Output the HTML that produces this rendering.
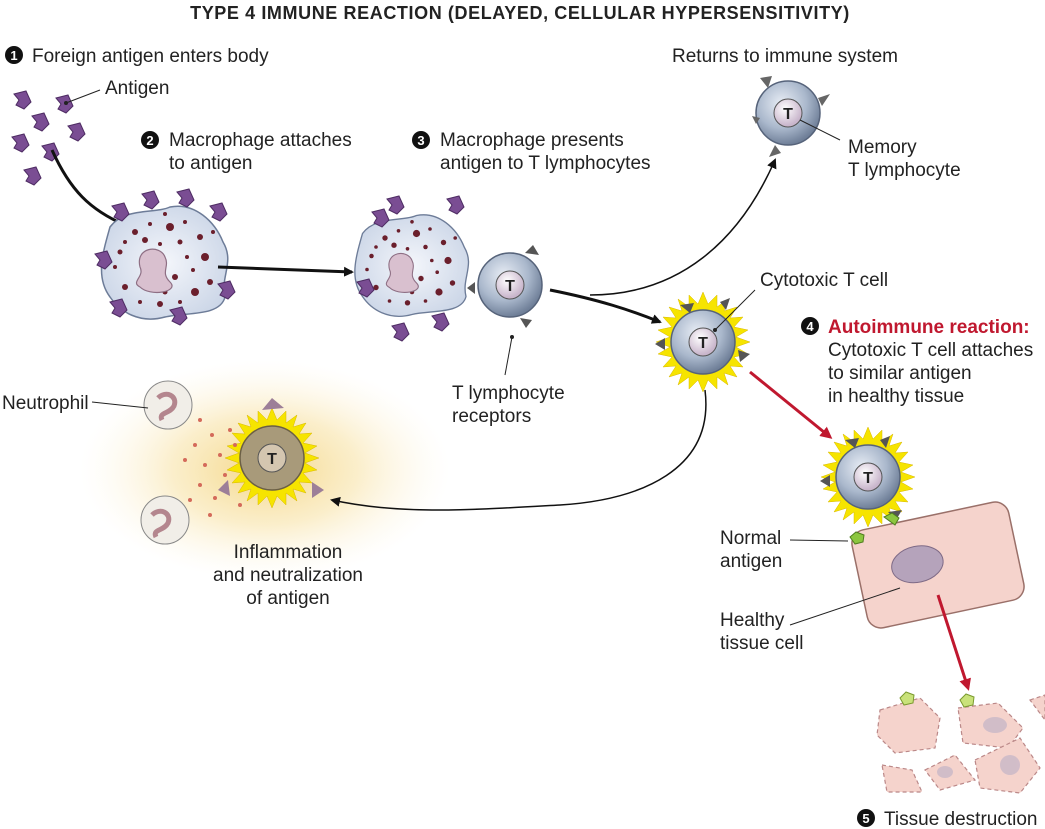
<!DOCTYPE html>
<html><head><meta charset="utf-8"><style>
html,body{margin:0;padding:0;background:#fff;}
svg{display:block;}
text{font-family:"Liberation Sans",sans-serif;font-size:19px;fill:#222;}
</style></head><body>
<svg width="1045" height="829" viewBox="0 0 1045 829" xmlns="http://www.w3.org/2000/svg">
<defs>
<radialGradient id="tc" cx="40%" cy="35%" r="65%"><stop offset="0" stop-color="#e8edf5"/><stop offset="0.6" stop-color="#aab8cc"/><stop offset="1" stop-color="#6f7f98"/></radialGradient>
<radialGradient id="nuc" cx="40%" cy="35%" r="60%"><stop offset="0" stop-color="#fff"/><stop offset="1" stop-color="#c9b6cc"/></radialGradient>
<radialGradient id="glow" cx="50%" cy="50%" r="50%"><stop offset="0" stop-color="#f3d27a" stop-opacity="0.9"/><stop offset="0.5" stop-color="#f8e3a8" stop-opacity="0.6"/><stop offset="1" stop-color="#fdf5e0" stop-opacity="0"/></radialGradient>
<radialGradient id="mac" cx="50%" cy="50%" r="60%"><stop offset="0" stop-color="#f4f6fb"/><stop offset="1" stop-color="#c9d4e6"/></radialGradient>
<marker id="ab" markerWidth="10" markerHeight="10" refX="8" refY="5" orient="auto" markerUnits="userSpaceOnUse"><path d="M0,0 L10,5 L0,10 z" fill="#111"/></marker>
<marker id="ar" markerWidth="12" markerHeight="12" refX="9" refY="6" orient="auto" markerUnits="userSpaceOnUse"><path d="M0,0 L12,6 L0,12 z" fill="#c0182f"/></marker>
<g id="ag"><path d="M-8,-6 L4,-9 L9,2 L2,9 L-6,5 L-3,0 z" fill="#7a4d93" stroke="#4e2c63" stroke-width="1"/></g>
<g id="tcell"><circle r="32" fill="url(#tc)" stroke="#56637a" stroke-width="1.5"/><circle r="14" fill="url(#nuc)" stroke="#555" stroke-width="1"/><text x="0" y="6" text-anchor="middle" style="font-weight:bold;font-size:16px">T</text></g>
<g id="halo"><polygon fill="#f6e400" stroke="#d8b800" stroke-width="0.5" points="0,-50 5,-38 14,-47 14,-35 25,-43 21,-31 34,-35 27,-24 40,-25 31,-15 45,-12 33,-5 47,0 33,5 45,12 31,15 40,25 27,24 34,35 21,31 25,43 14,35 14,47 5,38 0,50 -5,38 -14,47 -14,35 -25,43 -21,31 -34,35 -27,24 -40,25 -31,15 -45,12 -33,5 -47,0 -33,-5 -45,-12 -31,-15 -40,-25 -27,-24 -34,-35 -21,-31 -25,-43 -14,-35 -14,-47 -5,-38"/></g>
<g id="macro">
<path d="M-55,-35 C-40,-55 -10,-48 5,-55 C30,-60 50,-40 58,-20 C70,0 55,15 60,35 C55,55 20,50 0,55 C-25,62 -45,50 -55,35 C-70,15 -62,-10 -55,-35z" fill="url(#mac)" stroke="#6d7c98" stroke-width="1.5"/>
<g fill="#6b1f2c">
<circle cx="-30" cy="-30" r="3"/><circle cx="-15" cy="-38" r="2"/><circle cx="5" cy="-35" r="4"/><circle cx="20" cy="-40" r="2"/><circle cx="35" cy="-25" r="3"/><circle cx="15" cy="-20" r="2.5"/><circle cx="-5" cy="-18" r="2"/><circle cx="40" cy="-5" r="4"/><circle cx="28" cy="8" r="2"/><circle cx="45" cy="20" r="3"/><circle cx="30" cy="30" r="4"/><circle cx="15" cy="40" r="2"/><circle cx="-5" cy="42" r="3"/><circle cx="-25" cy="40" r="2"/><circle cx="-40" cy="25" r="3"/><circle cx="-45" cy="-10" r="2.5"/><circle cx="-40" cy="-20" r="2"/><circle cx="10" cy="15" r="3"/><circle cx="22" cy="-5" r="2"/><circle cx="-20" cy="-22" r="3"/><circle cx="0" cy="-48" r="2"/><circle cx="48" cy="-30" r="2"/><circle cx="-50" cy="5" r="2"/><circle cx="0" cy="30" r="2.5"/>
</g>
<path d="M-25,5 C-30,-15 -5,-18 0,-5 C5,5 -5,10 5,20 C15,30 -15,35 -25,25 C-35,20 -20,15 -25,5z" fill="#d9c0cf" stroke="#8e6f84" stroke-width="1.2"/>
</g>
</defs>

<text x="520" y="19" text-anchor="middle" style="font-weight:bold;font-size:18px;letter-spacing:0.6px">TYPE 4 IMMUNE REACTION (DELAYED, CELLULAR HYPERSENSITIVITY)</text>

<circle cx="14" cy="55" r="9" fill="#111"/><text x="14" y="60" text-anchor="middle" style="fill:#fff;font-weight:bold;font-size:13px">1</text>
<text x="32" y="62">Foreign antigen enters body</text>
<use href="#ag" x="22" y="100"/><use href="#ag" x="64" y="104"/><use href="#ag" x="40" y="122"/><use href="#ag" x="76" y="132"/><use href="#ag" x="20" y="143"/><use href="#ag" x="50" y="152"/><use href="#ag" x="32" y="176"/>
<line x1="66" y1="103" x2="100" y2="90" stroke="#222" stroke-width="1"/><circle cx="66" cy="103" r="2" fill="#222"/>
<text x="105" y="94">Antigen</text>
<path d="M52,150 C70,190 90,210 125,225" fill="none" stroke="#111" stroke-width="3" marker-end="url(#ab)"/>

<circle cx="150" cy="140" r="9" fill="#111"/><text x="150" y="145" text-anchor="middle" style="fill:#fff;font-weight:bold;font-size:13px">2</text>
<text x="169" y="146">Macrophage attaches</text><text x="169" y="169">to antigen</text>
<use href="#macro" x="165" y="262"/>
<use href="#ag" x="120" y="212"/><use href="#ag" x="185" y="198"/><use href="#ag" x="218" y="212"/><use href="#ag" x="103" y="260"/><use href="#ag" x="226" y="290"/><use href="#ag" x="118" y="308"/><use href="#ag" x="178" y="316"/><use href="#ag" x="150" y="200"/>
<path d="M218,267 L352,272" fill="none" stroke="#111" stroke-width="3" marker-end="url(#ab)"/>

<circle cx="421" cy="140" r="9" fill="#111"/><text x="421" y="145" text-anchor="middle" style="fill:#fff;font-weight:bold;font-size:13px">3</text>
<text x="440" y="146">Macrophage presents</text><text x="440" y="169">antigen to T lymphocytes</text>
<use href="#macro" x="412" y="265" transform="translate(412,265) scale(0.9) translate(-412,-265)"/>
<use href="#ag" x="380" y="218"/><use href="#ag" x="455" y="205"/><use href="#ag" x="365" y="288"/><use href="#ag" x="400" y="332"/><use href="#ag" x="440" y="322"/><use href="#ag" x="395" y="205"/>
<use href="#tcell" x="510" y="285"/>
<path d="M525,253 l8,-8 l6,10z M475,282 l-8,6 l8,6z M520,318 l6,10 l6,-8z" fill="#555"/>
<line x1="512" y1="337" x2="505" y2="375" stroke="#222" stroke-width="1"/><circle cx="512" cy="337" r="2" fill="#222"/>
<text x="452" y="399">T lymphocyte</text><text x="452" y="422">receptors</text>

<text x="672" y="62">Returns to immune system</text>
<path d="M590,295 C680,295 740,240 775,160" fill="none" stroke="#111" stroke-width="1.5" marker-end="url(#ab)"/>
<use href="#tcell" x="788" y="113"/>
<path d="M760,78 l8,10 l4,-12z M818,98 l12,-4 l-8,12z M775,145 l-6,12 l12,-4z M760,118 l-8,-2 l4,8z" fill="#666"/>
<line x1="800" y1="120" x2="840" y2="140" stroke="#222" stroke-width="1"/>
<text x="848" y="153">Memory</text><text x="848" y="176">T lymphocyte</text>

<path d="M550,290 C600,300 630,310 660,322" fill="none" stroke="#111" stroke-width="3" marker-end="url(#ab)"/>

<use href="#halo" x="703" y="342"/>
<use href="#tcell" x="703" y="342"/>
<path d="M680,305 l10,8 l4,-10z M720,302 l10,-4 l-4,12z M665,338 l-10,6 l10,6z M738,350 l12,4 l-10,8z" fill="#555"/>
<line x1="715" y1="330" x2="755" y2="290" stroke="#222" stroke-width="1"/><circle cx="715" cy="330" r="2" fill="#222"/>
<text x="760" y="286">Cytotoxic T cell</text>

<circle cx="810" cy="326" r="9" fill="#111"/><text x="810" y="331" text-anchor="middle" style="fill:#fff;font-weight:bold;font-size:13px">4</text>
<text x="828" y="333" style="fill:#c0182f;font-weight:bold">Autoimmune reaction:</text>
<text x="828" y="356">Cytotoxic T cell attaches</text><text x="828" y="379">to similar antigen</text><text x="828" y="402">in healthy tissue</text>

<path d="M750,372 L830,437" fill="none" stroke="#c0182f" stroke-width="3" marker-end="url(#ar)"/>

<ellipse cx="265" cy="470" rx="185" ry="110" fill="url(#glow)"/>
<path d="M705,390 C715,470 640,500 560,505 C470,510 400,515 332,500" fill="none" stroke="#111" stroke-width="1.5" marker-end="url(#ab)"/>
<use href="#halo" x="272" y="458"/>
<circle cx="272" cy="458" r="32" fill="#a89a7a" stroke="#6b5f45" stroke-width="1.5"/>
<circle cx="272" cy="458" r="14" fill="#d4c6b0" stroke="#555"/>
<text x="272" y="464" text-anchor="middle" style="font-weight:bold;font-size:16px">T</text>
<path d="M262,410 l10,-12 l12,10z M228,480 l-10,10 l12,6z M312,482 l12,8 l-12,8z" fill="#9d7f98"/>
<g fill="#d46a5a">
<circle cx="200" cy="420" r="2"/><circle cx="212" cy="435" r="2"/><circle cx="195" cy="445" r="2"/><circle cx="220" cy="455" r="2"/><circle cx="205" cy="465" r="2"/><circle cx="225" cy="475" r="2"/><circle cx="200" cy="485" r="2"/><circle cx="215" cy="498" r="2"/><circle cx="190" cy="500" r="2"/><circle cx="230" cy="430" r="2"/><circle cx="240" cy="505" r="2"/><circle cx="185" cy="460" r="2"/><circle cx="210" cy="515" r="2"/><circle cx="235" cy="445" r="2"/>
</g>
<g>
<circle cx="168" cy="405" r="24" fill="#f1eee8" stroke="#888"/><path d="M158,398 c8,-8 20,-2 16,8 c-4,8 -16,6 -12,14" fill="none" stroke="#b4868e" stroke-width="5"/>
<circle cx="165" cy="520" r="24" fill="#f1eee8" stroke="#888"/><path d="M152,515 c8,-8 20,-2 16,8 c-4,8 -16,6 -12,14" fill="none" stroke="#b4868e" stroke-width="5"/>
</g>
<line x1="92" y1="402" x2="148" y2="408" stroke="#222" stroke-width="1"/>
<text x="2" y="409">Neutrophil</text>
<text x="288" y="558" text-anchor="middle">Inflammation</text>
<text x="288" y="581" text-anchor="middle">and neutralization</text>
<text x="288" y="604" text-anchor="middle">of antigen</text>

<g transform="rotate(-12 938 565)">
<rect x="858" y="515" width="160" height="100" rx="14" fill="#f5d3cc" stroke="#9a7069" stroke-width="1.5"/>
<ellipse cx="918" cy="560" rx="26" ry="18" fill="#b5a3bb" stroke="#7e6a86"/>
</g>
<use href="#halo" x="868" y="477"/>
<use href="#tcell" x="868" y="477"/>
<path d="M845,440 l10,8 l4,-10z M880,440 l10,-4 l-4,12z M830,475 l-10,6 l10,6z M888,512 l8,8 l6,-10z" fill="#555"/>
<path d="M850,537 l6,-5 l8,3 l-1,7 l-8,2z M884,517 l8,-4 l7,5 l-4,7z" fill="#8cc63f" stroke="#4f7d1e"/>
<line x1="790" y1="540" x2="848" y2="541" stroke="#222" stroke-width="1"/>
<text x="720" y="544">Normal</text><text x="720" y="567">antigen</text>
<line x1="790" y1="625" x2="900" y2="588" stroke="#222" stroke-width="1"/>
<text x="720" y="626">Healthy</text><text x="720" y="649">tissue cell</text>

<path d="M938,595 L968,688" fill="none" stroke="#c0182f" stroke-width="3" marker-end="url(#ar)"/>

<g fill="#f5d3cc" stroke="#b88" stroke-width="1.2" stroke-dasharray="4,3">
<path d="M880,710 l40,-12 l20,20 l-5,30 l-40,5 l-18,-18z"/>
<path d="M958,708 l40,-5 l25,25 l-15,20 l-45,-5z"/>
<path d="M975,760 l45,-22 l20,30 l-20,25 l-40,-5z"/>
<path d="M925,770 l30,-15 l20,25 l-35,10z"/>
<path d="M882,765 l30,5 l10,22 l-35,0z"/>
<path d="M1030,700 l15,-5 l0,25z"/>
</g>
<g fill="#c9b8c8" opacity="0.8"><ellipse cx="995" cy="725" rx="12" ry="8"/><ellipse cx="1010" cy="765" rx="10" ry="10"/><ellipse cx="945" cy="772" rx="8" ry="6"/></g>
<path d="M900,698 l6,-6 l8,3 l-1,8 l-9,2z M960,700 l6,-6 l8,3 l-1,8 l-9,2z" fill="#c9e27a" stroke="#7a9a2e"/>

<circle cx="866" cy="818" r="9" fill="#111"/><text x="866" y="823" text-anchor="middle" style="fill:#fff;font-weight:bold;font-size:13px">5</text>
<text x="884" y="825">Tissue destruction</text>
</svg>
</body></html>
